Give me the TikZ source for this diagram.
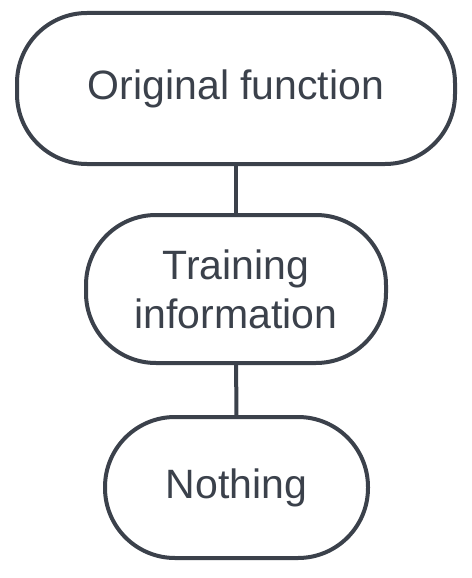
\documentclass[tikz,border=0pt]{standalone}
\usepackage{fontspec}
\setmainfont{Liberation Sans}
\usepackage{xcolor}
\usepackage{tikz}
\usetikzlibrary{positioning}
\definecolor{ink}{HTML}{3B414B}
\tikzset{
  pill/.style={draw=ink, line width=4pt, rounded corners=70pt, fill=white,
               inner sep=0pt, align=center, text=ink,
               font=\fontsize{41}{49}\selectfont},
  link/.style={draw=ink, line width=4pt},
}
\begin{document}
\begin{tikzpicture}[x=1pt, y=-1pt]
  \useasboundingbox (0,0) rectangle (471,578);
  % three stages, top to bottom
  \node[pill, minimum width=438pt, minimum height=151pt] (orig) at (236,88.5)
       {Original function};
  \node[pill, minimum width=300pt, minimum height=148pt] (train) at (236,289)
       {Training\\information};
  \node[pill, minimum width=263pt, minimum height=141pt] (none) at (236.5,487.5)
       {Nothing};

  \draw[link] (orig) -- (train);
  \draw[link] (train) -- (none);
\end{tikzpicture}
\end{document}
